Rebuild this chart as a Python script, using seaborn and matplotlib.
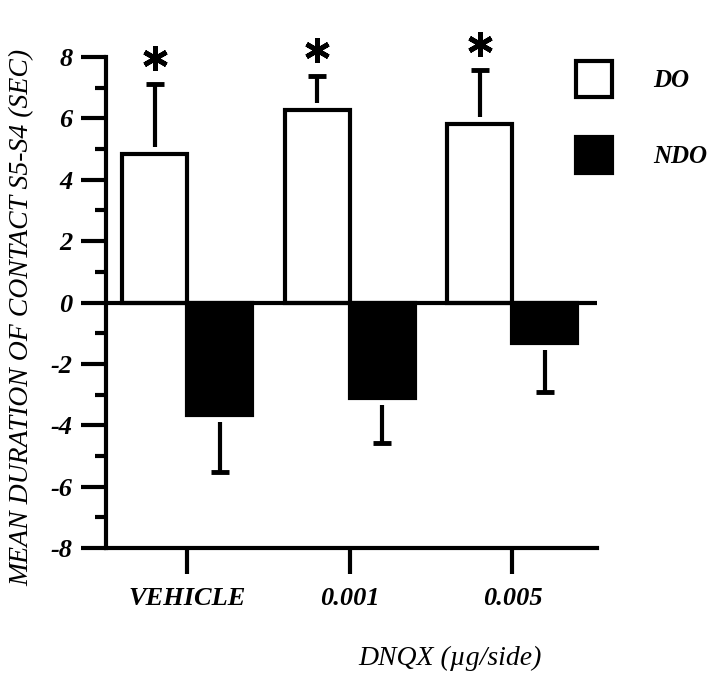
import numpy as np
import pandas as pd
import matplotlib
matplotlib.use('Agg')
import matplotlib.pyplot as plt
from matplotlib.patches import Patch
import seaborn as sns

# values
doses = ['VEHICLE', '0.001', '0.005']
do_mean = [4.85, 6.27, 5.81]
do_sem = [2.26, 1.12, 1.76]
ndo_mean = [-3.65, -3.12, -1.31]
ndo_sem = [1.87, 1.45, 1.62]

df = pd.DataFrame({
    'dose': doses + doses,
    'value': do_mean + ndo_mean,
    'group': ['DO'] * 3 + ['NDO'] * 3,
})
errs = do_sem + ndo_sem

sns.set_style('ticks')
plt.rcParams['font.family'] = ['Liberation Serif', 'DejaVu Serif']
plt.rcParams['axes.unicode_minus'] = False
for k in ['text.color', 'axes.labelcolor', 'xtick.color', 'ytick.color']:
    plt.rcParams[k] = 'black'

fig = plt.figure(figsize=(7.2, 6.74), dpi=100)
ax = fig.add_axes([106 / 720, 1 - 548 / 674, 491 / 720, 491 / 674])

sns.barplot(data=df, x='dose', y='value', hue='group', order=doses,
            palette={'DO': 'white', 'NDO': 'black'}, edgecolor='black',
            linewidth=3, errorbar=None, width=0.8, legend=False, ax=ax)

# one-sided error bars (with a small gap above/below the bar) and stars
gap = 0.23
for p, e in zip(ax.patches, errs):
    xc = p.get_x() + p.get_width() / 2
    h = p.get_height()
    s = 1 if h > 0 else -1
    ax.vlines(xc, h + s * gap, h + s * e, color='black', lw=3)
    ax.hlines(h + s * e, xc - 0.055, xc + 0.055, color='black', lw=3.5)
    if s > 0:
        ax.plot(xc, h + e + 0.85, marker=(6, 2, 0), ms=18, mew=3.5,
                color='black', clip_on=False)

ax.axhline(0, color='black', lw=3, zorder=5)

ax.set_xlim(-0.5, 2.52)
ax.set_ylim(-8, 8)
ax.set_yticks(np.arange(-8, 9, 2))
ax.set_yticks(np.arange(-7, 8, 2), minor=True)
ax.set_xticks(range(len(doses)))

tick_font = dict(family='Liberation Serif', style='italic', weight='bold', size=19)
ax.set_yticklabels([str(v) for v in range(-8, 9, 2)], fontdict=tick_font)
ax.set_xticklabels(doses, fontdict=tick_font)

ax.tick_params(axis='y', which='major', length=18, width=3, pad=6)
ax.tick_params(axis='y', which='minor', length=8, width=3)
ax.tick_params(axis='x', length=19, width=3, pad=9)

sns.despine(ax=ax)
for side in ['left', 'bottom']:
    ax.spines[side].set_linewidth(3)
    ax.spines[side].set_color('black')

ax.set_ylabel('MEAN DURATION OF CONTACT S5-S4 (SEC)', fontsize=20, style='italic')
ax.set_xlabel('DNQX (\u00b5g/side)', fontsize=20, style='italic')
ax.yaxis.set_label_coords(-0.145, 0.47)
ax.xaxis.set_label_coords(0.70, -0.2)

handles = [Patch(facecolor='white', edgecolor='black', lw=3, label='DO'),
           Patch(facecolor='black', edgecolor='black', lw=3, label='NDO')]
fig.legend(handles=handles, loc='upper left', bbox_to_anchor=(576 / 720, 1 - 61 / 674),
           frameon=False, borderpad=0, borderaxespad=0, handlelength=1.45,
           handleheight=1.85, handletextpad=1.65, labelspacing=1.6,
           prop=dict(family='Liberation Serif', style='italic', weight='bold', size=18))

fig.savefig('out.png', dpi=100)
